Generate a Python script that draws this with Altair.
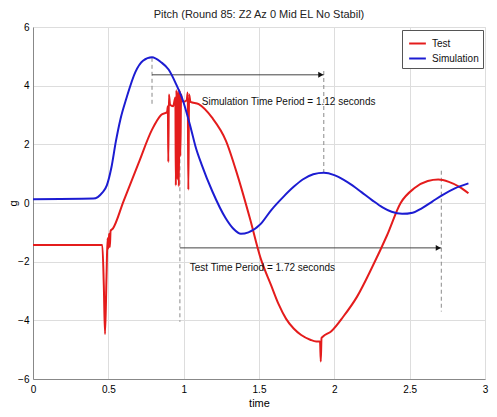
import altair as alt
import pandas as pd

# ---- data ----
test_x = [0.00, 0.46, 0.47, 0.478, 0.488, 0.495, 0.50, 0.505, 0.51, 0.515, 0.53,
          0.60, 0.70, 0.79, 0.85, 0.89, 0.895, 0.898, 0.902, 0.91, 0.93, 0.945,
          0.948, 0.952, 0.958, 0.963, 0.968, 0.973, 0.978, 0.983, 0.99, 1.00, 1.02,
          1.027, 1.031, 1.036, 1.045, 1.10, 1.19, 1.28, 1.36, 1.44, 1.51, 1.58,
          1.63, 1.68, 1.73, 1.78, 1.84, 1.88, 1.905, 1.91, 1.915, 1.925, 1.98, 2.06, 2.15,
          2.25, 2.35, 2.44, 2.53, 2.62, 2.69, 2.76, 2.83, 2.89]
test_y = [-1.43, -1.43, -2.8, -4.47, -2.5, -1.2, -1.55, -1.05, -1.5, -0.95, -0.87,
          0.05, 1.35, 2.5, 3.0, 3.1, 3.3, 1.4, 3.7, 3.35, 3.3, 3.6,
          0.6, 3.85, 0.8, 3.8, 0.57, 3.85, 1.6, 3.7, 3.5, 3.45, 3.5,
          3.77, 0.45, 3.7, 3.45, 3.37, 2.9, 2.13, 0.9, -0.53, -1.87, -2.8,
          -3.45, -3.95, -4.28, -4.5, -4.66, -4.72, -4.72, -5.4, -4.6, -4.55, -4.37, -3.87, -3.2,
          -2.2, -1.1, 0.0, 0.5, 0.75, 0.8, 0.72, 0.55, 0.33]

sim_x = [0.00, 0.40, 0.43, 0.46, 0.49, 0.52, 0.55, 0.58, 0.62, 0.68, 0.73, 0.79,
         0.85, 0.90, 0.95, 0.99, 1.05, 1.08, 1.12, 1.19, 1.28, 1.33, 1.38, 1.43,
         1.51, 1.58, 1.66, 1.73, 1.79, 1.86, 1.93, 2.00, 2.06, 2.12, 2.18, 2.25,
         2.32, 2.38, 2.45, 2.52, 2.58, 2.65, 2.72, 2.80, 2.89]
sim_y = [0.13, 0.15, 0.2, 0.35, 0.6, 1.2, 2.1, 2.85, 3.57, 4.47, 4.85, 4.97,
         4.8, 4.55, 4.05, 3.57, 2.5, 1.9, 1.3, 0.4, -0.53, -0.88, -1.05, -1.0,
         -0.72, -0.25, 0.2, 0.55, 0.8, 0.98, 1.03, 0.95, 0.8, 0.6, 0.37, 0.1,
         -0.15, -0.3, -0.37, -0.33, -0.18, 0.05, 0.28, 0.5, 0.67]

series_names = ["Test", "Simulation"]
series_colors = ["#e41c1c", "#1c1cd2"]

# dashed vertical markers
mark_x = [0.79, 1.93, 0.975, 2.71]
mark_y1 = [4.95, 4.5, 3.4, 1.1]
mark_y2 = [3.35, 1.05, -4.05, -3.7]

# period arrows
arrow_x1 = [0.79, 0.975]
arrow_x2 = [1.93, 2.71]
arrow_y = [4.37, -1.53]

# annotation texts
note_text = ["Simulation Time Period = 1.12 seconds", "Test Time Period = 1.72 seconds"]
note_x = [1.12, 1.04]
note_y = [3.43, -2.2]

x_ticks = [0, 0.5, 1, 1.5, 2, 2.5, 3]
y_ticks = [-6, -4, -2, 0, 2, 4, 6]

# ---- tables ----
lines = pd.concat([
    pd.DataFrame({"x": test_x, "y": test_y, "series": "Test", "idx": range(len(test_x))}),
    pd.DataFrame({"x": sim_x, "y": sim_y, "series": "Simulation", "idx": range(len(sim_x))}),
])
marks = pd.DataFrame({"x": mark_x, "y": mark_y1, "y2": mark_y2})
arrows = pd.DataFrame({"x": arrow_x1, "x2": arrow_x2, "y": arrow_y})
notes = pd.DataFrame({"x": note_x, "y": note_y, "t": note_text})

FONT = "Liberation Sans"
W, H = 452, 352
xs = alt.Scale(domain=[0, 3], nice=False, zero=False)
ys = alt.Scale(domain=[-6, 6], nice=False, zero=False)
xaxis = alt.Axis(values=x_ticks, format="~g", title="time", grid=True, ticks=False,
                 labelPadding=5, titlePadding=3, labelFlush=False, titleFontWeight="normal",
                 titleFont=FONT, titleFontSize=11)
yaxis = alt.Axis(values=y_ticks, format="~g", title="g", grid=True, ticks=False,
                 labelPadding=4, titleX=-20, titleY=H / 2, titleBaseline="middle",
                 titleAngle=270, titleFontWeight="normal", titleFont=FONT, titleFontSize=11)

def X(f="x"):
    return alt.X(f"{f}:Q", scale=xs, axis=xaxis)

def Y(f="y"):
    return alt.Y(f"{f}:Q", scale=ys, axis=yaxis)

line_layer = alt.Chart(lines).mark_line(strokeWidth=2, interpolate="monotone").encode(
    x=X(), y=Y(),
    color=alt.Color("series:N", scale=alt.Scale(domain=series_names, range=series_colors),
                    legend=alt.Legend(title=None, orient="none", legendX=369, legendY=3,
                                      symbolType="stroke", symbolSize=280, symbolStrokeWidth=2,
                                      labelFontSize=10, labelFont=FONT, labelColor="#111",
                                      strokeColor="#555", fillColor="white", padding=4,
                                      rowPadding=0, labelOffset=5, symbolOffset=2)),
    order="idx:Q",
)

mark_layer = alt.Chart(marks).mark_rule(color="#8a8a8a", strokeDash=[4, 3], strokeWidth=1).encode(
    x=X(), y=Y(), y2="y2:Q")

arrow_layer = alt.Chart(arrows).mark_rule(color="#444", strokeWidth=1).encode(
    x=X(), x2="x2:Q", y=Y())

head_layer = alt.Chart(arrows).mark_point(shape="triangle-right", filled=True, size=35,
                                          color="#111", opacity=1, xOffset=-3).encode(
    x=X("x2"), y=Y())

note_layer = alt.Chart(notes).mark_text(align="left", baseline="middle", fontSize=10,
                                        font=FONT, color="#111").encode(
    x=X(), y=Y(), text="t:N")

chart = alt.layer(mark_layer, arrow_layer, head_layer, line_layer, note_layer).properties(
    width=W, height=H,
    title=alt.TitleParams("Pitch (Round 85: Z2 Az 0 Mid EL No Stabil)", fontSize=11,
                          fontWeight="normal", font=FONT, color="#222", offset=2),
    autosize=alt.AutoSizeParams(type="none"),
    padding={"left": 25, "top": 19, "right": 4, "bottom": 29},
).configure_axis(
    gridColor="#c8c8c8", gridDash=[1, 2], gridWidth=1, domain=False,
    labelFont=FONT, labelFontSize=10, labelColor="#222",
    titleFont=FONT, titleFontSize=11, titleFontWeight="normal", titleColor="#222",
).configure_view(stroke="#8a8a8a", strokeWidth=1.5).configure(background="white")

chart.save("out.html", embed_options={"renderer": "svg", "actions": False})
